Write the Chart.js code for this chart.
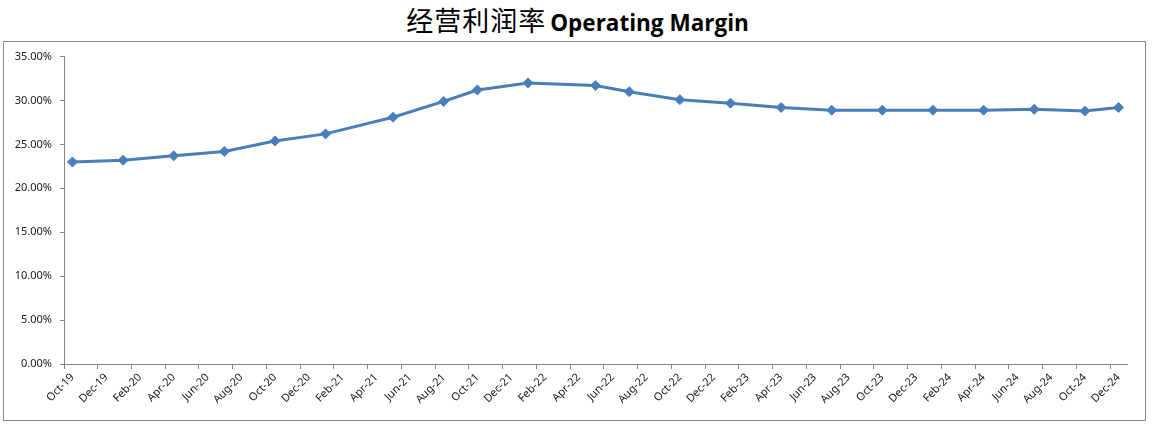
<!DOCTYPE html>
<html>
<head>
<meta charset="utf-8">
<script src="https://cdn.jsdelivr.net/npm/chart.js@4/dist/chart.umd.min.js"></script>
<style>
  body { margin: 0; background: #fff; width: 1155px; height: 425px; position: relative; }
  #title { position: absolute; left: 0; top: 3px; width: 1155px; text-align: center; white-space: nowrap; line-height: 34px; }
  #title .zh { font-family: "Noto Sans CJK SC", sans-serif; font-size: 27px; font-weight: normal; letter-spacing: 1px; }
  #title .en { font-family: "Open Sans", sans-serif; font-size: 22.5px; font-weight: bold; }
  #frame { position: absolute; left: 3px; top: 41px; width: 1141px; height: 378px; border: 1px solid #8a8a8a; }
</style>
</head>
<body>
<div id="title"><span class="zh">经营利润率</span> <span class="en">Operating Margin</span></div>
<div id="frame"><canvas id="marginChart"></canvas></div>
<script>
// month slots on the date axis (Excel style, one slot per month)
var months = [
  'Oct-19', 'Nov-19', 'Dec-19',
  'Jan-20', 'Feb-20', 'Mar-20', 'Apr-20', 'May-20', 'Jun-20', 'Jul-20', 'Aug-20', 'Sep-20', 'Oct-20', 'Nov-20', 'Dec-20',
  'Jan-21', 'Feb-21', 'Mar-21', 'Apr-21', 'May-21', 'Jun-21', 'Jul-21', 'Aug-21', 'Sep-21', 'Oct-21', 'Nov-21', 'Dec-21',
  'Jan-22', 'Feb-22', 'Mar-22', 'Apr-22', 'May-22', 'Jun-22', 'Jul-22', 'Aug-22', 'Sep-22', 'Oct-22', 'Nov-22', 'Dec-22',
  'Jan-23', 'Feb-23', 'Mar-23', 'Apr-23', 'May-23', 'Jun-23', 'Jul-23', 'Aug-23', 'Sep-23', 'Oct-23', 'Nov-23', 'Dec-23',
  'Jan-24', 'Feb-24', 'Mar-24', 'Apr-24', 'May-24', 'Jun-24', 'Jul-24', 'Aug-24', 'Sep-24', 'Oct-24', 'Nov-24', 'Dec-24'
];

// months where a value was reported
var pointMonths = [
  'Oct-19', 'Jan-20', 'Apr-20', 'Jul-20', 'Oct-20', 'Jan-21', 'May-21', 'Aug-21', 'Oct-21', 'Jan-22', 'May-22',
  'Jul-22', 'Oct-22', 'Jan-23', 'Apr-23', 'Jul-23', 'Oct-23', 'Jan-24', 'Apr-24', 'Jul-24', 'Oct-24', 'Dec-24'
];

// operating margin
var margins = [
  0.230, 0.232, 0.237, 0.242, 0.254, 0.262, 0.281, 0.299, 0.312, 0.320, 0.317,
  0.310, 0.301, 0.297, 0.292, 0.289, 0.289, 0.289, 0.289, 0.290, 0.288, 0.292
];

var yTicks = [0, 0.05, 0.10, 0.15, 0.20, 0.25, 0.30, 0.35];

var lineColor = '#4A7EBB';
var axisColor = '#868686';

var points = pointMonths.map(function(m, i) {
  return { x: m, y: margins[i] };
});

var ctx = document.getElementById('marginChart').getContext('2d');
var chart = new Chart(ctx, {
  type: 'line',
  data: {
    labels: months,
    datasets: [{
      label: 'Operating Margin',
      data: points,
      borderColor: lineColor,
      backgroundColor: lineColor,
      borderWidth: 3,
      pointStyle: 'rectRot',
      pointRadius: 5,
      pointBorderWidth: 1,
      pointBackgroundColor: lineColor,
      pointBorderColor: lineColor,
      tension: 0
    }]
  },
  options: {
    responsive: true,
    maintainAspectRatio: false,
    animation: false,
    layout: { padding: { top: 14, right: 18, bottom: 0, left: 0 } },
    plugins: {
      legend: { display: false },
      tooltip: { enabled: false }
    },
    scales: {
      x: {
        type: 'category',
        offset: true,
        grid: {
          offset: true,
          drawOnChartArea: false,
          drawTicks: true,
          tickLength: 5,
          color: function(c) { return c.index % 2 === 0 ? axisColor : 'rgba(0,0,0,0)'; }
        },
        border: { display: true, color: axisColor, width: 1 },
        ticks: {
          autoSkip: false,
          maxRotation: 45,
          minRotation: 45,
          padding: 2,
          color: '#1a1a1a',
          font: { family: 'Noto Sans', size: 11 },
          callback: function(v, i) { return i % 2 === 0 ? months[i] : ''; }
        },
        afterFit: function(s) { s.height = 56; }
      },
      y: {
        min: 0,
        max: 0.35,
        afterBuildTicks: function(s) { s.ticks = yTicks.map(function(v) { return { value: v }; }); },
        grid: {
          drawOnChartArea: false,
          drawTicks: true,
          tickLength: 4,
          color: axisColor
        },
        border: { display: true, color: axisColor, width: 1 },
        ticks: {
          padding: 8,
          color: '#1a1a1a',
          font: { family: 'Noto Sans', size: 11 },
          callback: function(v) { return (v * 100).toFixed(2) + '%'; }
        },
        afterFit: function(s) { s.width = 60; }
      }
    }
  }
});
</script>
</body>
</html>
